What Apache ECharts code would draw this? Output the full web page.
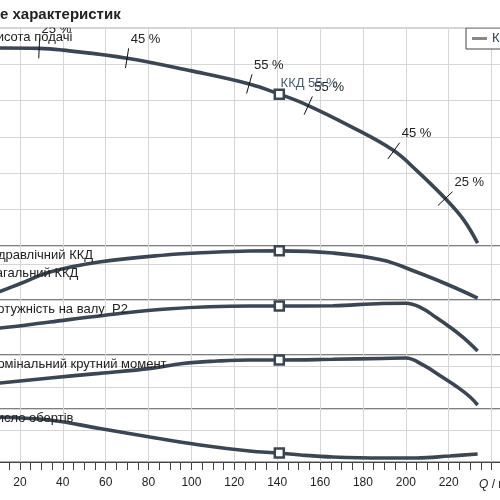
<!DOCTYPE html>
<html>
<head>
<meta charset="utf-8">
<script src="https://cdn.jsdelivr.net/npm/echarts@6/dist/echarts.min.js"></script>
<style>
  html, body { margin: 0; padding: 0; background: #fff; }
  #chart { width: 500px; height: 500px; }
</style>
</head>
<body>
<div id="chart"></div>
<script>
// head curve
const headQ = [0, 10, 29, 40, 70, 100, 127, 141, 154, 174, 194, 205, 219, 227, 233.5];
const headH = [54.4, 54.5, 54.4, 53.9, 51.7, 48.2, 44.6, 41.8, 38.8, 33.0, 26.4, 20.8, 12.7, 7.2, 0.8];

// efficiency
const effQ = [0, 10.7, 20, 34, 57, 88, 110, 127, 141, 166, 189, 205, 220, 233.5];
const effV = [2, 9.5, 18, 31.1, 42.2, 50, 53, 54.4, 54.6, 52.2, 44.4, 31.1, 16.7, 2.2];

// shaft power P2
const powQ = [0, 10.7, 34, 57, 88.5, 127, 141, 166, 189, 200, 207, 214, 220.5, 227, 233.5];
const powV = [18.3, 19.6, 24, 28.4, 33.5, 35.6, 35.6, 35.8, 37.5, 37.6, 34.5, 27.5, 20.4, 12.4, 2.9];

// torque
const torQ = [0, 10.7, 34, 57, 81, 96, 112, 127, 141, 166, 189, 200, 208, 217, 224, 230, 233.5];
const torV = [110, 120, 143.5, 165, 188, 211, 222, 227, 227, 230, 234, 236, 204, 148, 102, 55.6, 18.5];

// speed
const spdQ = [0, 10.7, 34, 57.3, 80.6, 104, 127, 141, 151, 166, 189, 205, 220.5, 233.5];
const spdV = [4330, 4245, 3962, 3160, 2358, 1604, 1038, 849, 660, 472, 377, 377, 566, 755];

// efficiency marks on the head curve
const markQ = [29, 70, 127, 154.5, 194.4, 218.4];
const markLabels = ['25 %', '45 %', '55 %', '55 %', '45 %', '25 %'];

const bepQ = 141;
const bepEff = 55;
const xTicks = [0, 20, 40, 60, 80, 100, 120, 140, 160, 180, 200, 220, 240];

const panelNames = [
  ['Висота подачі'],
  ['Гідравлічний ККД', 'Загальний ККД'],
  ['Потужність на валу  P2'],
  ['Номінальний крутний момент'],
  ['Число обертів']
];

const CURVE = '#3b4652';
const GRIDC = '#d6d6d6';
const FONT = '"Liberation Sans", Arial, sans-serif';

function interp(xs, ys, x) {
  for (let i = 1; i < xs.length; i++) {
    if (x <= xs[i]) {
      const t = (x - xs[i - 1]) / (xs[i] - xs[i - 1]);
      return ys[i - 1] + t * (ys[i] - ys[i - 1]);
    }
  }
  return ys[ys.length - 1];
}

const panels = [
  { top: 28, height: 218, min: 0, max: 60, interval: 10 },
  { top: 246, height: 54, min: 0, max: 60, interval: 40 },
  { top: 300, height: 55, min: 0, max: 40, interval: 20 },
  { top: 355, height: 54, min: 0, max: 250, interval: 100 },
  { top: 409, height: 53, min: 0, max: 5000, interval: 3000 }
];
const curves = [[headQ, headH], [effQ, effV], [powQ, powV], [torQ, torV], [spdQ, spdV]];
const names = ['Висота подачі', 'ККД', 'Потужність P2', 'Крутний момент', 'Число обертів'];

const chart = echarts.init(document.getElementById('chart'));

const grid = panels.map(p => ({
  left: -23, width: 536, top: p.top, height: p.height,
  outerBoundsMode: 'none', containLabel: false,
  show: true, borderColor: '#555', borderWidth: 1, backgroundColor: 'transparent'
}));

const xAxis = panels.map((p, i) => {
  const last = i === panels.length - 1;
  return {
    type: 'value', gridIndex: i, min: 0, max: 250, interval: 20,
    axisLine: { show: last, lineStyle: { color: '#444' } },
    axisTick: { show: last, length: 8, lineStyle: { color: '#444' } },
    minorTick: { show: last, splitNumber: 4, length: 8, lineStyle: { color: '#444' } },
    axisLabel: {
      show: last, color: '#222', fontSize: 12, fontFamily: FONT, margin: 15,
      formatter: v => (xTicks.indexOf(v) >= 0 && v !== 240 ? String(v) : '')
    },
    splitLine: { show: true, lineStyle: { color: GRIDC, width: 1 } }
  };
});

const yAxis = panels.map((p, i) => ({
  type: 'value', gridIndex: i, min: p.min, max: p.max, interval: p.interval,
  axisLine: { show: false }, axisTick: { show: false }, axisLabel: { show: false },
  splitLine: { show: true, lineStyle: { color: GRIDC, width: 1 } }
}));

const series = curves.map((c, i) => ({
  name: names[i],
  type: 'line', xAxisIndex: i, yAxisIndex: i,
  data: c[0].map((q, k) => [q, c[1][k]]),
  smooth: 0.4, showSymbol: false, silent: true,
  lineStyle: { color: CURVE, width: 3.6 },
  itemStyle: { color: CURVE },
  markPoint: {
    silent: true,
    data: [{
      coord: [bepQ, interp(c[0], c[1], bepQ)],
      symbol: 'rect', symbolSize: 9,
      itemStyle: { color: '#fff', borderColor: CURVE, borderWidth: 2.5 },
      label: i === 0 ? {
        show: true, position: [7, -11], formatter: 'ККД ' + bepEff + ' %',
        color: '#4a5d70', fontSize: 13, fontFamily: FONT
      } : { show: false }
    }]
  }
}));

series.push({
  type: 'custom', xAxisIndex: 0, yAxisIndex: 0, silent: true, z: 5,
  data: markQ.map(q => [q, interp(headQ, headH, q)]),
  renderItem: function (params, api) {
    const q = api.value(0), h = api.value(1);
    const p = api.coord([q, h]);
    const a = api.coord([q - 3, interp(headQ, headH, q - 3)]);
    const b = api.coord([q + 3, interp(headQ, headH, q + 3)]);
    const dx = b[0] - a[0], dy = b[1] - a[1];
    const len = Math.hypot(dx, dy);
    const nx = dy / len, ny = -dx / len;
    const L = 10;
    const t = [p[0] + nx * L, p[1] + ny * L];
    const s = [p[0] - nx * L, p[1] - ny * L];
    return {
      type: 'group',
      children: [
        { type: 'line', shape: { x1: s[0], y1: s[1], x2: t[0], y2: t[1] },
          style: { stroke: '#111', lineWidth: 1 } },
        { type: 'text', x: t[0] + 2, y: t[1] - 9,
          style: { text: markLabels[params.dataIndex], fill: '#222',
                   font: '13px ' + FONT, align: 'left', verticalAlign: 'middle' } }
      ]
    };
  }
});

const graphic = [
  { type: 'rect', z: 100, shape: { x: 0, y: 0, width: 500, height: 27.5 }, style: { fill: '#fff' } },
  { type: 'text', z: 101, x: 0, y: 15,
    style: { text: 'е характеристик', fill: '#222', font: 'bold 15px ' + FONT, verticalAlign: 'middle' } },
  { type: 'text', z: 101, x: 479, y: 485,
    style: {
      text: '{i|Q} / м³/год',
      rich: { i: { fontStyle: 'italic', fontSize: 12, fontFamily: FONT, fill: '#222' } },
      fill: '#222', font: '12px ' + FONT, verticalAlign: 'middle'
    } }
];
panelNames.forEach((lines, i) => {
  lines.forEach((txt, k) => {
    graphic.push({
      type: 'text', z: 90, x: -12, y: panels[i].top + 9 + k * 18,
      style: { text: txt, fill: '#222', font: '13px ' + FONT, verticalAlign: 'middle' }
    });
  });
});

chart.setOption({
  animation: false,
  backgroundColor: '#fff',
  grid: grid,
  xAxis: xAxis,
  yAxis: yAxis,
  legend: {
    left: 466, top: 28, padding: [4, 6], selectedMode: false,
    borderColor: '#444', borderWidth: 1, backgroundColor: '#fff',
    itemWidth: 15, itemHeight: 3, icon: 'rect',
    textStyle: { color: '#2f3f4f', fontSize: 13, fontFamily: FONT },
    data: [{ name: 'ККД', itemStyle: { color: '#888' } }]
  },
  graphic: graphic,
  series: series
});
</script>
</body>
</html>
